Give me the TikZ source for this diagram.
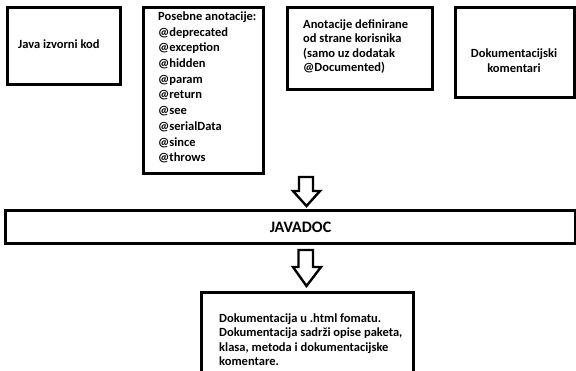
\documentclass[tikz,border=0pt]{standalone}
\usepackage{fontspec}
\setmainfont{Carlito}
\begin{document}
\begin{tikzpicture}[x=1pt,y=-1pt,
  box/.style={draw=black,line width=3pt,fill=white},
  txt/.style={font=\fontsize{12.5}{15.7}\selectfont\bfseries,inner sep=0pt,align=left},
  blockarrow/.style={draw=black,line width=2.4pt,line join=miter,fill=white}]
\useasboundingbox (0,0) rectangle (576,370);
\fill[white] (0,0) rectangle (576,370);
% boxes
\draw[box] (7,7) rectangle (120,84);
\draw[box] (143,7) rectangle (263,173);
\draw[box] (287,7) rectangle (432,89);
\draw[box] (455,7) rectangle (574,97);
\draw[box] (5,210) rectangle (575,243);
\draw[box] (201,292) rectangle (413,380);
% texts
\node[txt,anchor=west] (java) at (18,44) {Java izvorni kod};
\node[txt,anchor=north west] (pos) at (158,11.5) {Posebne anotacije:\\@deprecated\\@exception\\@hidden\\@param\\@return\\@see\\@serialData\\@since\\@throws};
\node[txt,anchor=north west,font=\fontsize{12.5}{14.4}\selectfont\bfseries] (anot) at (303,19.5) {Anotacije definirane\\od strane korisnika\\(samo uz dodatak\\@Documented)};
\node[txt,align=center,font=\fontsize{12.5}{15}\selectfont\bfseries] (dok) at (514,61) {Dokumentacijski\\komentari};
\node[txt,font=\fontsize{16}{18}\selectfont\bfseries] (jd) at (300.5,227) {JAVADOC};
\node[txt,anchor=north west,font=\fontsize{12.5}{14.5}\selectfont\bfseries] (out) at (219,313.5) {Dokumentacija u .html fomatu.\\Dokumentacija sadrži opise paketa,\\klasa, metoda i dokumentacijske\\komentare.};
% block arrows
\draw[blockarrow] (299,177) -- (313,177) -- (313,191) -- (320,191) -- (306.5,206) -- (293,191) -- (299,191) -- cycle;
\draw[blockarrow] (298.5,250) -- (313,250) -- (313,267) -- (321,267) -- (306.5,286) -- (293,267) -- (298.5,267) -- cycle;
\end{tikzpicture}
\end{document}
